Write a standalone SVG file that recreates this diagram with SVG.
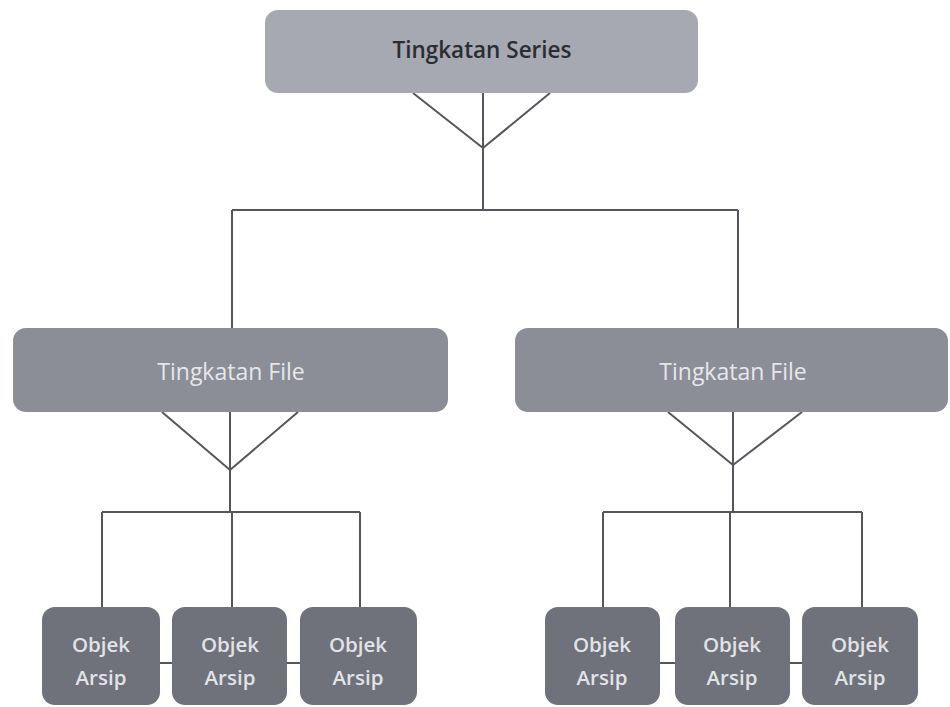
<svg xmlns="http://www.w3.org/2000/svg" width="950" height="707" viewBox="0 0 950 707">
<style>
.series{fill:#a6a8b2}
.file{fill:#8b8d97}
.obj{fill:#6f717b}
.c{fill:none;stroke:#55565c;stroke-width:2}
text{font-family:"Open Sans","Liberation Sans",sans-serif;text-anchor:middle}
.t1{font-size:22.5px;font-weight:600;fill:#2c2d33}
.t2{font-size:23px;fill:#e6e7ec}
.t3{font-size:20.5px;font-weight:600;fill:#e2e3e8}
</style>
<rect width="950" height="707" fill="#ffffff"/>
<g id="connectors">
<path class="c" d="M413 93 L483 148 L550 93 M483 93 V210 M232 210 H738 M232 210 V328 M738 210 V328"/>
<path class="c" d="M162 412 L230 470 L298 412 M230 412 V512 M102 512 H360 M102 512 V607 M232 512 V607 M360 512 V607"/>
<path class="c" d="M668 412 L733 465 L802 412 M733 412 V512 M603 512 H862 M603 512 V607 M730 512 V607 M862 512 V607"/>
<path class="c" d="M160 663 H172 M287 663 H300 M660 663 H675 M790 663 H802"/>
</g>
<g id="series"><rect class="series" x="265" y="10" width="433" height="83" rx="13"/><text class="t1" x="482" y="58">Tingkatan Series</text></g>
<g id="file1"><rect class="file" x="13" y="328" width="435" height="84" rx="13"/><text class="t2" x="231" y="380">Tingkatan File</text></g>
<g id="file2"><rect class="file" x="515" y="328" width="433" height="84" rx="13"/><text class="t2" x="733" y="380">Tingkatan File</text></g>
<g id="obj1"><rect class="obj" x="42" y="607" width="118" height="98" rx="13"/><text class="t3" x="101" y="652">Objek</text><text class="t3" x="101" y="685">Arsip</text></g>
<g id="obj2"><rect class="obj" x="172" y="607" width="115" height="98" rx="13"/><text class="t3" x="230" y="652">Objek</text><text class="t3" x="230" y="685">Arsip</text></g>
<g id="obj3"><rect class="obj" x="300" y="607" width="117" height="98" rx="13"/><text class="t3" x="358" y="652">Objek</text><text class="t3" x="358" y="685">Arsip</text></g>
<g id="obj4"><rect class="obj" x="545" y="607" width="115" height="98" rx="13"/><text class="t3" x="602" y="652">Objek</text><text class="t3" x="602" y="685">Arsip</text></g>
<g id="obj5"><rect class="obj" x="675" y="607" width="115" height="98" rx="13"/><text class="t3" x="732" y="652">Objek</text><text class="t3" x="732" y="685">Arsip</text></g>
<g id="obj6"><rect class="obj" x="802" y="607" width="116" height="98" rx="13"/><text class="t3" x="860" y="652">Objek</text><text class="t3" x="860" y="685">Arsip</text></g>
</svg>
